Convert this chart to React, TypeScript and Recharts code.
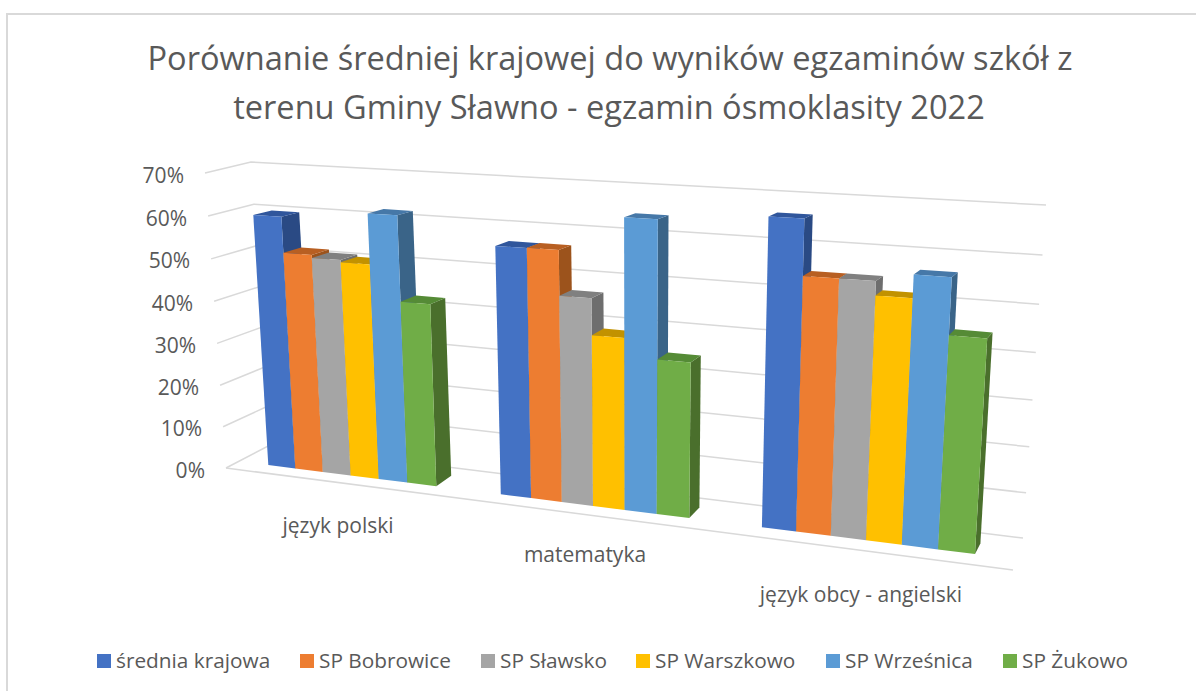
import { BarChart, Bar, XAxis, YAxis, CartesianGrid, Legend } from 'recharts'

type Pt = [number, number]

const categories = ['język polski', 'matematyka', 'język obcy - angielski']
const srednia = [60, 56.6, 66.4]
const bobrowice = [51.7, 56.65, 54.7]
const slawsko = [51, 46.7, 54.7]
const warszkowo = [50.5, 38.6, 51.75]
const wrzesnica = [62, 64.5, 56.5]
const zukowo = [42.5, 34.55, 44.85]
const yTicks = [0, 10, 20, 30, 40, 50, 60, 70]

const seriesNames = ['średnia krajowa', 'SP Bobrowice', 'SP Sławsko', 'SP Warszkowo', 'SP Wrześnica', 'SP Żukowo']
const seriesValues = [srednia, bobrowice, slawsko, warszkowo, wrzesnica, zukowo]
const frontColors = ['#4472C4', '#ED7D31', '#A5A5A5', '#FFC000', '#5B9BD5', '#70AD47']
const topColors = ['#30569C', '#B85F22', '#808080', '#C29200', '#4678A8', '#558B36']
const sideColors = ['#2A4A84', '#9C531C', '#6E6E6E', '#A67C00', '#3A6488', '#4A6F2C']

const data = categories.map((name, i) => {
  const row: Record<string, string | number> = { name }
  seriesNames.forEach((s, j) => {
    row[s] = seriesValues[j][i]
  })
  return row
})

const W = 1196
const H = 691
const PL = 50
const PT = 50
const PW = 1104
const PH = 561
const GAP = 49
const FONT = '"Open Sans", sans-serif'
const TEXT = '#595959'
const GRID = '#D9D9D9'

// unit square -> quad, corners given as (0,0) (1,0) (1,1) (0,1)
function homography(p0: Pt, p1: Pt, p2: Pt, p3: Pt) {
  const dx1 = p1[0] - p2[0]
  const dx2 = p3[0] - p2[0]
  const sx = p0[0] - p1[0] + p2[0] - p3[0]
  const dy1 = p1[1] - p2[1]
  const dy2 = p3[1] - p2[1]
  const sy = p0[1] - p1[1] + p2[1] - p3[1]
  const den = dx1 * dy2 - dx2 * dy1
  const g = (sx * dy2 - dx2 * sy) / den
  const h = (dx1 * sy - sx * dy1) / den
  const a = p1[0] - p0[0] + g * p1[0]
  const b = p3[0] - p0[0] + h * p3[0]
  const d = p1[1] - p0[1] + g * p1[1]
  const e = p3[1] - p0[1] + h * p3[1]
  return (s: number, t: number): Pt => {
    const w = g * s + h * t + 1
    return [(a * s + b * t + p0[0]) / w, (d * s + e * t + p0[1]) / w]
  }
}

// the flat recharts plot gets bent onto the planes of the 3d scene
const sNorm = (x: number) => (x - PL) / PW
const vNorm = (y: number) => (PT + PH - y) / PH // 0..1 == 0..70%

const barFrontH = homography([268.3, 465], [975, 554], [991.5, 262], [253.3, 215])
const ua = GAP / PW
const ub = 1 - ua
const barS = (x: number) => (sNorm(x) - ua) / (ub - ua)
const barT = (y: number) => (vNorm(y) * 70) / 60
const front = (x: number, y: number) => barFrontH(barS(x), barT(y))
// back edge of a bar: depth shrinks going right and flattens going up
const back = (x: number, y: number): Pt => {
  const p = front(x, y)
  return [p[0] + 18.4 - 13 * barS(x), p[1] - 10.5 + 6 * barT(y)]
}

const backWall = homography([270, 445], [1023, 538], [1046, 205], [251, 162])
const sideWall = homography([226, 468], [270, 445], [251, 162], [205, 173])
const floorEdge: Pt[] = [[226, 468], [1013, 570]]

const poly = (pts: Pt[]) => pts.map((p) => p.map((n) => n.toFixed(1)).join(',')).join(' ')

function Bar3D(props: any) {
  const { x, y, width, height, fill, topFill, sideFill } = props
  const r = x + width
  const b = y + height
  return (
    <g>
      <polygon points={poly([front(r, y), back(r, y), back(r, b), front(r, b)])} fill={sideFill} />
      <polygon points={poly([front(x, y), front(r, y), back(r, y), back(x, y)])} fill={topFill} />
      <polygon points={poly([front(x, y), front(r, y), front(r, b), front(x, b)])} fill={fill} />
    </g>
  )
}

function GridLine3D(props: any) {
  const v = vNorm(props.y1)
  return (
    <g key={props.key}>
      <polyline
        points={poly([sideWall(0, v), backWall(0, v), backWall(1, v)])}
        fill="none"
        stroke={GRID}
        strokeWidth={1.5}
      />
      {v < 0.001 && <polyline points={poly(floorEdge)} fill="none" stroke={GRID} strokeWidth={1.5} />}
    </g>
  )
}

function YTick(props: any) {
  const p = sideWall(0, vNorm(props.y))
  return (
    <text x={p[0] - 21} y={p[1] + 9.5} textAnchor="end" fontSize={21} fontFamily={FONT} fill={TEXT}>
      {props.payload.value}%
    </text>
  )
}

// Excel places these with its own rounding, so they do not sit on one straight line
const catLabelPos: Pt[] = [[338, 533], [585, 562], [861, 602]]

function XTick(props: any) {
  const p = catLabelPos[props.index]
  return (
    <text x={p[0]} y={p[1]} textAnchor="middle" fontSize={21} fontFamily={FONT} fill={TEXT}>
      {props.payload.value}
    </text>
  )
}

const legendX = [97, 300, 481, 636, 826, 1003]

function LegendRow(props: any) {
  return (
    <svg width={W} height={30} style={{ display: 'block' }}>
      {props.payload.map((e: any, i: number) => (
        <g key={e.value}>
          <rect x={legendX[i]} y={9} width={14} height={14} fill={e.color} />
          <text x={legendX[i] + 19} y={23} fontSize={20.8} fontFamily={FONT} fill={TEXT}>
            {e.value}
          </text>
        </g>
      ))}
    </svg>
  )
}

export default function App() {
  return (
    <div style={{ position: 'absolute', left: 0, top: 0, width: W, height: H, background: '#fff', overflow: 'hidden' }}>
      <div
        style={{
          position: 'absolute',
          left: 6,
          top: 12.5,
          width: W,
          height: H,
          borderLeft: '2px solid #D9D9D9',
          borderTop: '2px solid #D9D9D9',
        }}
      />
      <BarChart
        width={W}
        height={H}
        data={data}
        barCategoryGap={GAP}
        barGap={0}
        margin={{ top: PT, right: W - PL - PW, bottom: 20, left: 10 }}
        style={{ position: 'absolute', left: 0, top: 0 }}
      >
        <CartesianGrid vertical={false} horizontal={(p: any) => <GridLine3D {...p} />} />
        <XAxis
          dataKey="name"
          height={30}
          interval={0}
          axisLine={false}
          tickLine={false}
          tick={(p: any) => <XTick {...p} />}
        />
        <YAxis
          width={40}
          domain={[0, 70]}
          ticks={yTicks}
          axisLine={false}
          tickLine={false}
          tick={(p: any) => <YTick {...p} />}
        />
        {seriesNames.map((s, i) => (
          <Bar
            key={s}
            dataKey={s}
            fill={frontColors[i]}
            isAnimationActive={false}
            shape={(p: any) => <Bar3D {...p} fill={frontColors[i]} topFill={topColors[i]} sideFill={sideColors[i]} />}
          />
        ))}
        <Legend
          itemSorter={null}
          content={(p: any) => <LegendRow {...p} />}
          wrapperStyle={{ left: 0, top: 645, width: W, height: 30 }}
        />
        <text x={610} y={70} textAnchor="middle" fontSize={32.55} fontFamily={FONT} fill={TEXT}>
          Porównanie średniej krajowej do wyników egzaminów szkół z
        </text>
        <text x={609} y={119} textAnchor="middle" fontSize={32.55} fontFamily={FONT} fill={TEXT}>
          terenu Gminy Sławno - egzamin ósmoklasity 2022
        </text>
      </BarChart>
    </div>
  )
}
